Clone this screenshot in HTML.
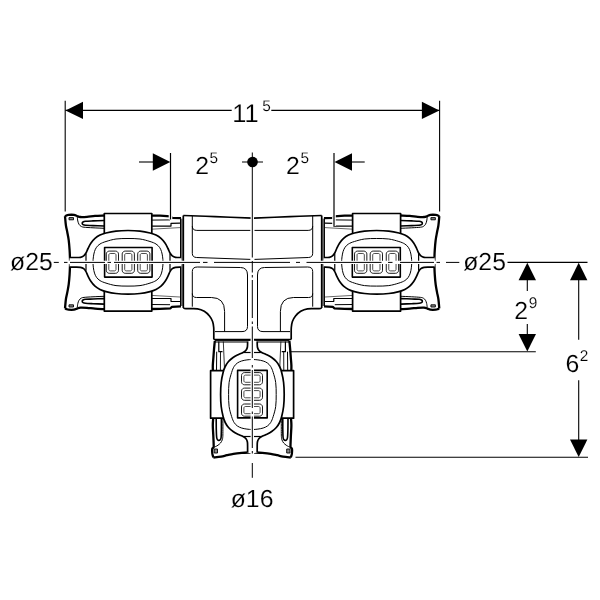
<!DOCTYPE html>
<html lang="en">
<head>
<meta charset="utf-8">
<title>T-fitting dimension drawing</title>
<style>
html,body{margin:0;padding:0;background:#fff;}
body{width:600px;height:600px;overflow:hidden;font-family:"Liberation Sans",Arial,sans-serif;}
svg{display:block;will-change:transform;transform:translateZ(0);}
</style>
</head>
<body>
<svg width="600" height="600" viewBox="0 0 600 600" font-family="'Liberation Sans', Arial, sans-serif" fill="#000" stroke-linecap="butt" stroke-linejoin="round" text-rendering="geometricPrecision">
<rect width="600" height="600" fill="#fff" stroke="none"/>
<path d="M183.3 215.5L252.5 218.2L321.7 215.5L321.7 308L319 308.7L307.5 308.8L300.7 311.3L295.5 316L292.4 321.5L291.3 327.5L291.2 334L291.2 339.5L213.8 339.5L213.8 334L213.7 327.5L212.6 321.5L209.5 316L204.3 311.3L197.5 308.8L186 308.7L183.3 308Z" fill="#fff" stroke="none"/>
<path d="M183.3 215.5C188.58 215.68 203.47 216.15 215 216.6C226.53 217.05 246.25 217.93 252.5 218.2" fill="none" stroke="#000" stroke-width="1.7" />
<path d="M183.3 215.5L183.3 308" fill="none" stroke="#000" stroke-width="1.7" />
<path d="M183.3 308C183.75 308.12 183.63 308.57 186 308.7C188.37 308.83 194.45 308.37 197.5 308.8C200.55 309.23 202.3 310.1 204.3 311.3C206.3 312.5 208.12 314.3 209.5 316C210.88 317.7 211.9 319.58 212.6 321.5C213.3 323.42 213.5 325.42 213.7 327.5C213.9 329.58 213.78 332 213.8 334C213.82 336 213.8 338.58 213.8 339.5" fill="none" stroke="#000" stroke-width="1.7" />
<path d="M192.3 216L192.3 253.3Q192.3 257.4 196.7 257.5L250.5 259.4" fill="none" stroke="#000" stroke-width="1" />
<path d="M192.3 226.2Q192.3 230.3 196.8 230.4L250.5 230.4" fill="none" stroke="#000" stroke-width="1" />
<path d="M192.3 306.7L192.3 271.5Q192.3 267 197.3 267L240.5 267.5Q247.5 267.6 247.5 275L247.5 326.5Q247.5 331.6 242 331.6L215 331.6" fill="none" stroke="#000" stroke-width="1" />
<path d="M192.3 293.5Q192.3 297.5 196.5 297.5L211.5 297.5Q224.6 297.6 224.6 311.5L224.6 331.6" fill="none" stroke="#000" stroke-width="1" />
<path d="M213.8 339.5L252.5 339.5" fill="none" stroke="#000" stroke-width="1.7" />
<path d="M321.7 215.5C316.42 215.68 301.53 216.15 290 216.6C278.47 217.05 258.75 217.93 252.5 218.2" fill="none" stroke="#000" stroke-width="1.7" />
<path d="M321.7 215.5L321.7 308" fill="none" stroke="#000" stroke-width="1.7" />
<path d="M321.7 308C321.25 308.12 321.37 308.57 319 308.7C316.63 308.83 310.55 308.37 307.5 308.8C304.45 309.23 302.7 310.1 300.7 311.3C298.7 312.5 296.88 314.3 295.5 316C294.12 317.7 293.1 319.58 292.4 321.5C291.7 323.42 291.5 325.42 291.3 327.5C291.1 329.58 291.22 332 291.2 334C291.18 336 291.2 338.58 291.2 339.5" fill="none" stroke="#000" stroke-width="1.7" />
<path d="M312.7 216L312.7 253.3Q312.7 257.4 308.3 257.5L254.5 259.4" fill="none" stroke="#000" stroke-width="1" />
<path d="M312.7 226.2Q312.7 230.3 308.2 230.4L254.5 230.4" fill="none" stroke="#000" stroke-width="1" />
<path d="M312.7 306.7L312.7 271.5Q312.7 267 307.7 267L264.5 267.5Q257.5 267.6 257.5 275L257.5 326.5Q257.5 331.6 263 331.6L290 331.6" fill="none" stroke="#000" stroke-width="1" />
<path d="M312.7 293.5Q312.7 297.5 308.5 297.5L293.5 297.5Q280.4 297.6 280.4 311.5L280.4 331.6" fill="none" stroke="#000" stroke-width="1" />
<path d="M291.2 339.5L252.5 339.5" fill="none" stroke="#000" stroke-width="1.7" />
<path d="M181.6 218.6L181 218.2L172 217.8L170.5 216.3L160 215.7L151.5 215.6L104 215.5L95 215.9L87 216.8L80.5 217L77 216L74 214.9L68.5 214.9L66.5 215.5L65 216.2L65.9 225.36L67.3 232.25L68.7 240.14L69.6 249.99L70 259.3L70 262.3L70 265.3L69.6 274.61L68.7 284.46L67.3 292.35L65.9 299.24L65 308.4L66.5 309.1L68.5 309.7L74 309.7L77 308.6L80.5 307.6L87 307.8L95 308.7L104 309.1L151.5 309L160 308.9L170.5 308.3L172 306.8L181 306.4L181.6 306Z" fill="#fff" stroke="none"/>
<path d="M65 216.2C65.15 217.73 65.52 222.68 65.9 225.36C66.28 228.03 66.83 229.79 67.3 232.25C67.77 234.72 68.32 237.18 68.7 240.14C69.08 243.09 69.38 246.79 69.6 249.99C69.82 253.18 69.93 257.25 70 259.3C70.07 261.35 70 261.3 70 262.3C70 263.3 70.07 263.25 70 265.3C69.93 267.35 69.82 271.42 69.6 274.61C69.38 277.81 69.08 281.51 68.7 284.46C68.32 287.42 67.77 289.88 67.3 292.35C66.83 294.81 66.28 296.57 65.9 299.24C65.52 301.92 65.15 306.87 65 308.4" fill="none" stroke="#000" stroke-width="2.3"/>
<path d="M65 216.2C65.25 216.08 65.92 215.72 66.5 215.5C67.08 215.28 67.25 215 68.5 214.9C69.75 214.8 72.58 214.72 74 214.9C75.42 215.08 75.92 215.65 77 216C78.08 216.35 78.83 216.87 80.5 217C82.17 217.13 84.58 216.98 87 216.8C89.42 216.62 92.17 216.12 95 215.9C97.83 215.68 102.5 215.57 104 215.5" fill="none" stroke="#000" stroke-width="2.3"/>
<path d="M151.5 215.6L160 215.7L170.5 216.3L172 217.8L181 218.2" fill="none" stroke="#000" stroke-width="2.3"/>
<path d="M69 217.6L73.5 217.6L73.5 219.8L69 219.8Z" fill="#888" stroke="#000" stroke-width="0.9"/>
<path d="M77.3 217C77.38 217.67 77.52 219.78 77.8 221C78.08 222.22 78.47 223.42 79 224.3C79.53 225.18 80.17 225.82 81 226.3C81.83 226.78 82 226.95 84 227.2C86 227.45 89.67 227.62 93 227.8C96.33 227.98 102.17 228.22 104 228.3" fill="none" stroke="#000" stroke-width="1"/>
<path d="M104 220.5C102.17 220.57 96.08 220.77 93 220.9C89.92 221.03 87.17 221.12 85.5 221.3C83.83 221.48 83.55 221.67 83 222C82.45 222.33 82.2 222.87 82.2 223.3C82.2 223.73 82.45 224.27 83 224.6C83.55 224.93 83.83 225.13 85.5 225.3C87.17 225.47 89.92 225.48 93 225.6C96.08 225.72 102.17 225.93 104 226" fill="none" stroke="#000" stroke-width="1.6"/>
<path d="M151.5 220.1L170 219.9" fill="none" stroke="#000" stroke-width="1"/>
<path d="M151.5 226.1L171 226.1L171 223.3L180 223.1" fill="none" stroke="#000" stroke-width="1.2"/>
<path d="M151.5 229.2L180 227.6" fill="none" stroke="#000" stroke-width="0.6"/>
<path d="M65 308.4C65.25 308.52 65.92 308.88 66.5 309.1C67.08 309.32 67.25 309.6 68.5 309.7C69.75 309.8 72.58 309.88 74 309.7C75.42 309.52 75.92 308.95 77 308.6C78.08 308.25 78.83 307.73 80.5 307.6C82.17 307.47 84.58 307.62 87 307.8C89.42 307.98 92.17 308.48 95 308.7C97.83 308.92 102.5 309.03 104 309.1" fill="none" stroke="#000" stroke-width="2.3"/>
<path d="M151.5 309L160 308.9L170.5 308.3L172 306.8L181 306.4" fill="none" stroke="#000" stroke-width="2.3"/>
<path d="M69 307L73.5 307L73.5 304.8L69 304.8Z" fill="#888" stroke="#000" stroke-width="0.9"/>
<path d="M77.3 307.6C77.38 306.93 77.52 304.82 77.8 303.6C78.08 302.38 78.47 301.18 79 300.3C79.53 299.42 80.17 298.78 81 298.3C81.83 297.82 82 297.65 84 297.4C86 297.15 89.67 296.98 93 296.8C96.33 296.62 102.17 296.38 104 296.3" fill="none" stroke="#000" stroke-width="1"/>
<path d="M104 304.1C102.17 304.03 96.08 303.83 93 303.7C89.92 303.57 87.17 303.48 85.5 303.3C83.83 303.12 83.55 302.93 83 302.6C82.45 302.27 82.2 301.73 82.2 301.3C82.2 300.87 82.45 300.33 83 300C83.55 299.67 83.83 299.47 85.5 299.3C87.17 299.13 89.92 299.12 93 299C96.08 298.88 102.17 298.67 104 298.6" fill="none" stroke="#000" stroke-width="1.6"/>
<path d="M151.5 304.5L170 304.7" fill="none" stroke="#000" stroke-width="1"/>
<path d="M151.5 298.5L171 298.5L171 301.3L180 301.5" fill="none" stroke="#000" stroke-width="1.2"/>
<path d="M151.5 295.4L180 297" fill="none" stroke="#000" stroke-width="0.6"/>
<path d="M180.5 218.6L180.5 306" fill="none" stroke="#000" stroke-width="1"/>
<path d="M181.9 218.6L181.9 306" fill="none" stroke="#000" stroke-width="1"/>
<path d="M104.3 213.5L151.8 213.5L151.8 311.1L104.3 311.1Z" fill="#fff" stroke="#000" stroke-width="1.7"/>
<path d="M70 257.5C70.83 255.9 73.25 257.53 75 257.5C76.75 257.47 79.05 257.57 80.5 257.3C81.95 257.03 82.78 256.62 83.7 255.9C84.62 255.18 85.28 254.23 86 253C86.72 251.77 87.17 250.17 88 248.5C88.83 246.83 89.83 244.68 91 243C92.17 241.32 93.5 239.72 95 238.4C96.5 237.08 98.17 236 100 235.1C101.83 234.2 103.33 233.67 106 233C108.67 232.33 112.33 231.52 116 231.1C119.67 230.68 124 230.5 128 230.5C132 230.5 136.33 230.68 140 231.1C143.67 231.52 147.33 232.33 150 233C152.67 233.67 154.17 234.2 156 235.1C157.83 236 159.5 237.08 161 238.4C162.5 239.72 163.83 241.32 165 243C166.17 244.68 167.17 246.83 168 248.5C168.83 250.17 169.28 251.77 170 253C170.72 254.23 171.38 255.18 172.3 255.9C173.22 256.62 174.05 257.03 175.5 257.3C176.95 257.57 180.08 255.87 181 257.5C181.92 259.13 181.92 265.47 181 267.1C180.08 268.73 176.95 267.03 175.5 267.3C174.05 267.57 173.22 267.98 172.3 268.7C171.38 269.42 170.72 270.37 170 271.6C169.28 272.83 168.83 274.43 168 276.1C167.17 277.77 166.17 279.92 165 281.6C163.83 283.28 162.5 284.88 161 286.2C159.5 287.52 157.83 288.6 156 289.5C154.17 290.4 152.67 290.93 150 291.6C147.33 292.27 143.67 293.08 140 293.5C136.33 293.92 132 294.1 128 294.1C124 294.1 119.67 293.92 116 293.5C112.33 293.08 108.67 292.27 106 291.6C103.33 290.93 101.83 290.4 100 289.5C98.17 288.6 96.5 287.52 95 286.2C93.5 284.88 92.17 283.28 91 281.6C89.83 279.92 88.83 277.77 88 276.1C87.17 274.43 86.72 272.83 86 271.6C85.28 270.37 84.62 269.42 83.7 268.7C82.78 267.98 81.95 267.57 80.5 267.3C79.05 267.03 76.75 267.13 75 267.1C73.25 267.07 70.83 268.7 70 267.1C69.17 265.5 69.17 259.1 70 257.5Z" fill="#fff" stroke="none"/>
<path d="M70 257.5C70.83 257.5 73.25 257.53 75 257.5C76.75 257.47 79.05 257.57 80.5 257.3C81.95 257.03 82.78 256.62 83.7 255.9C84.62 255.18 85.28 254.23 86 253C86.72 251.77 87.17 250.17 88 248.5C88.83 246.83 89.83 244.68 91 243C92.17 241.32 93.5 239.72 95 238.4C96.5 237.08 98.17 236 100 235.1C101.83 234.2 103.33 233.67 106 233C108.67 232.33 112.33 231.52 116 231.1C119.67 230.68 124 230.5 128 230.5C132 230.5 136.33 230.68 140 231.1C143.67 231.52 147.33 232.33 150 233C152.67 233.67 154.17 234.2 156 235.1C157.83 236 159.5 237.08 161 238.4C162.5 239.72 163.83 241.32 165 243C166.17 244.68 167.17 246.83 168 248.5C168.83 250.17 169.28 251.77 170 253C170.72 254.23 171.38 255.18 172.3 255.9C173.22 256.62 174.05 257.03 175.5 257.3C176.95 257.57 180.08 257.47 181 257.5" fill="none" stroke="#000" stroke-width="1.7"/>
<path d="M181 267.1C180.08 267.13 176.95 267.03 175.5 267.3C174.05 267.57 173.22 267.98 172.3 268.7C171.38 269.42 170.72 270.37 170 271.6C169.28 272.83 168.83 274.43 168 276.1C167.17 277.77 166.17 279.92 165 281.6C163.83 283.28 162.5 284.88 161 286.2C159.5 287.52 157.83 288.6 156 289.5C154.17 290.4 152.67 290.93 150 291.6C147.33 292.27 143.67 293.08 140 293.5C136.33 293.92 132 294.1 128 294.1C124 294.1 119.67 293.92 116 293.5C112.33 293.08 108.67 292.27 106 291.6C103.33 290.93 101.83 290.4 100 289.5C98.17 288.6 96.5 287.52 95 286.2C93.5 284.88 92.17 283.28 91 281.6C89.83 279.92 88.83 277.77 88 276.1C87.17 274.43 86.72 272.83 86 271.6C85.28 270.37 84.62 269.42 83.7 268.7C82.78 267.98 81.95 267.57 80.5 267.3C79.05 267.03 76.75 267.13 75 267.1C73.25 267.07 70.83 267.1 70 267.1" fill="none" stroke="#000" stroke-width="1.7"/>
<path d="M86 253.8L86 270.8" fill="none" stroke="#000" stroke-width="1.2"/>
<path d="M170 253.8L170 270.8" fill="none" stroke="#000" stroke-width="1.2"/>
<path d="M93 262.3C93 260.47 93.15 258.6 93.4 256.8C93.65 255 93.98 253.08 94.5 251.5C95.02 249.92 95.58 248.55 96.5 247.3C97.42 246.05 98.42 244.97 100 244C101.58 243.03 103.33 242.33 106 241.5C108.67 240.67 112.33 239.5 116 239C119.67 238.5 124 238.5 128 238.5C132 238.5 136.33 238.5 140 239C143.67 239.5 147.33 240.67 150 241.5C152.67 242.33 154.42 243.03 156 244C157.58 244.97 158.58 246.05 159.5 247.3C160.42 248.55 160.98 249.92 161.5 251.5C162.02 253.08 162.35 255 162.6 256.8C162.85 258.6 163 260.47 163 262.3C163 264.13 162.85 266 162.6 267.8C162.35 269.6 162.02 271.52 161.5 273.1C160.98 274.68 160.42 276.05 159.5 277.3C158.58 278.55 157.58 279.63 156 280.6C154.42 281.57 152.67 282.27 150 283.1C147.33 283.93 143.67 285.1 140 285.6C136.33 286.1 132 286.1 128 286.1C124 286.1 119.67 286.1 116 285.6C112.33 285.1 108.67 283.93 106 283.1C103.33 282.27 101.58 281.57 100 280.6C98.42 279.63 97.42 278.55 96.5 277.3C95.58 276.05 95.02 274.68 94.5 273.1C93.98 271.52 93.65 269.6 93.4 267.8C93.15 266 93 264.13 93 262.3Z" fill="none" stroke="#000" stroke-width="1"/>
<path d="M104.6 247.5L152.1 247.5L152.1 277.1L104.6 277.1Z" fill="#fff" stroke="#000" stroke-width="1.6"/>
<path d="M115.5 251.1L116.43 251.25L117.26 251.67L117.93 252.34L118.35 253.17L118.5 254.1L118.5 270.3L118.35 271.23L117.93 272.06L117.26 272.73L116.43 273.15L115.5 273.3L109.3 273.3L108.37 273.15L107.54 272.73L106.87 272.06L106.45 271.23L106.3 270.3L106.3 254.1L106.45 253.17L106.87 252.34L107.54 251.67L108.37 251.25L109.3 251.1Z" fill="none" stroke="#000" stroke-width="0.9"/>
<path d="M114.5 253.5L114.96 253.57L115.38 253.79L115.71 254.12L115.93 254.54L116 255L116 269.4L115.93 269.86L115.71 270.28L115.38 270.61L114.96 270.83L114.5 270.9L110.3 270.9L109.84 270.83L109.42 270.61L109.09 270.28L108.87 269.86L108.8 269.4L108.8 255L108.87 254.54L109.09 254.12L109.42 253.79L109.84 253.57L110.3 253.5Z" fill="none" stroke="#000" stroke-width="0.7"/>
<path d="M131.4 251.1L132.33 251.25L133.16 251.67L133.83 252.34L134.25 253.17L134.4 254.1L134.4 270.3L134.25 271.23L133.83 272.06L133.16 272.73L132.33 273.15L131.4 273.3L125.2 273.3L124.27 273.15L123.44 272.73L122.77 272.06L122.35 271.23L122.2 270.3L122.2 254.1L122.35 253.17L122.77 252.34L123.44 251.67L124.27 251.25L125.2 251.1Z" fill="none" stroke="#000" stroke-width="0.9"/>
<path d="M130.4 253.5L130.86 253.57L131.28 253.79L131.61 254.12L131.83 254.54L131.9 255L131.9 269.4L131.83 269.86L131.61 270.28L131.28 270.61L130.86 270.83L130.4 270.9L126.2 270.9L125.74 270.83L125.32 270.61L124.99 270.28L124.77 269.86L124.7 269.4L124.7 255L124.77 254.54L124.99 254.12L125.32 253.79L125.74 253.57L126.2 253.5Z" fill="none" stroke="#000" stroke-width="0.7"/>
<path d="M146.9 251.1L147.83 251.25L148.66 251.67L149.33 252.34L149.75 253.17L149.9 254.1L149.9 270.3L149.75 271.23L149.33 272.06L148.66 272.73L147.83 273.15L146.9 273.3L140.7 273.3L139.77 273.15L138.94 272.73L138.27 272.06L137.85 271.23L137.7 270.3L137.7 254.1L137.85 253.17L138.27 252.34L138.94 251.67L139.77 251.25L140.7 251.1Z" fill="none" stroke="#000" stroke-width="0.9"/>
<path d="M145.9 253.5L146.36 253.57L146.78 253.79L147.11 254.12L147.33 254.54L147.4 255L147.4 269.4L147.33 269.86L147.11 270.28L146.78 270.61L146.36 270.83L145.9 270.9L141.7 270.9L141.24 270.83L140.82 270.61L140.49 270.28L140.27 269.86L140.2 269.4L140.2 255L140.27 254.54L140.49 254.12L140.82 253.79L141.24 253.57L141.7 253.5Z" fill="none" stroke="#000" stroke-width="0.7"/>
<path d="M323.39 218.6L323.98 218.2L332.8 217.8L334.27 216.3L344.56 215.7L352.9 215.6L400.9 215.5L409.76 215.9L417.64 216.8L424.04 217L427.48 216L430.44 214.9L435.85 214.9L437.82 215.5L439.3 216.2L438.41 225.36L437.04 232.25L435.66 240.14L434.77 249.99L434.38 259.3L434.38 262.3L434.38 265.3L434.77 274.61L435.66 284.46L437.04 292.35L438.41 299.24L439.3 308.4L437.82 309.1L435.85 309.7L430.44 309.7L427.48 308.6L424.04 307.6L417.64 307.8L409.76 308.7L400.9 309.1L352.9 309L344.56 308.9L334.27 308.3L332.8 306.8L323.98 306.4L323.39 306Z" fill="#fff" stroke="none"/>
<path d="M439.3 216.2C439.15 217.73 438.79 222.68 438.41 225.36C438.04 228.03 437.49 229.79 437.04 232.25C436.58 234.72 436.03 237.18 435.66 240.14C435.28 243.09 434.98 246.79 434.77 249.99C434.56 253.18 434.44 257.25 434.38 259.3C434.31 261.35 434.38 261.3 434.38 262.3C434.38 263.3 434.31 263.25 434.38 265.3C434.44 267.35 434.56 271.42 434.77 274.61C434.98 277.81 435.28 281.51 435.66 284.46C436.03 287.42 436.58 289.88 437.04 292.35C437.49 294.81 438.04 296.57 438.41 299.24C438.79 301.92 439.15 306.87 439.3 308.4" fill="none" stroke="#000" stroke-width="2.3"/>
<path d="M439.3 216.2C439.05 216.08 438.4 215.72 437.82 215.5C437.25 215.28 437.08 215 435.85 214.9C434.62 214.8 431.83 214.72 430.44 214.9C429.04 215.08 428.55 215.65 427.48 216C426.42 216.35 425.68 216.87 424.04 217C422.4 217.13 420.02 216.98 417.64 216.8C415.26 216.62 412.55 216.12 409.76 215.9C406.97 215.68 402.37 215.57 400.9 215.5" fill="none" stroke="#000" stroke-width="2.3"/>
<path d="M352.9 215.6L344.56 215.7L334.27 216.3L332.8 217.8L323.98 218.2" fill="none" stroke="#000" stroke-width="2.3"/>
<path d="M435.36 217.6L430.93 217.6L430.93 219.8L435.36 219.8Z" fill="#888" stroke="#000" stroke-width="0.9"/>
<path d="M427.19 217C427.11 217.67 426.97 219.78 426.7 221C426.42 222.22 426.04 223.42 425.51 224.3C424.99 225.18 424.36 225.82 423.54 226.3C422.72 226.78 422.56 226.95 420.59 227.2C418.62 227.45 415.01 227.62 411.73 227.8C408.45 227.98 402.7 228.22 400.9 228.3" fill="none" stroke="#000" stroke-width="1"/>
<path d="M400.9 220.5C402.7 220.57 408.69 220.77 411.73 220.9C414.76 221.03 417.47 221.12 419.11 221.3C420.75 221.48 421.03 221.67 421.57 222C422.12 222.33 422.36 222.87 422.36 223.3C422.36 223.73 422.12 224.27 421.57 224.6C421.03 224.93 420.75 225.13 419.11 225.3C417.47 225.47 414.76 225.48 411.73 225.6C408.69 225.72 402.7 225.93 400.9 226" fill="none" stroke="#000" stroke-width="1.6"/>
<path d="M352.9 220.1L334.76 219.9" fill="none" stroke="#000" stroke-width="1"/>
<path d="M352.9 226.1L333.78 226.1L333.78 223.3L324.96 223.1" fill="none" stroke="#000" stroke-width="1.2"/>
<path d="M352.9 229.2L324.96 227.6" fill="none" stroke="#000" stroke-width="0.6"/>
<path d="M439.3 308.4C439.05 308.52 438.4 308.88 437.82 309.1C437.25 309.32 437.08 309.6 435.85 309.7C434.62 309.8 431.83 309.88 430.44 309.7C429.04 309.52 428.55 308.95 427.48 308.6C426.42 308.25 425.68 307.73 424.04 307.6C422.4 307.47 420.02 307.62 417.64 307.8C415.26 307.98 412.55 308.48 409.76 308.7C406.97 308.92 402.37 309.03 400.9 309.1" fill="none" stroke="#000" stroke-width="2.3"/>
<path d="M352.9 309L344.56 308.9L334.27 308.3L332.8 306.8L323.98 306.4" fill="none" stroke="#000" stroke-width="2.3"/>
<path d="M435.36 307L430.93 307L430.93 304.8L435.36 304.8Z" fill="#888" stroke="#000" stroke-width="0.9"/>
<path d="M427.19 307.6C427.11 306.93 426.97 304.82 426.7 303.6C426.42 302.38 426.04 301.18 425.51 300.3C424.99 299.42 424.36 298.78 423.54 298.3C422.72 297.82 422.56 297.65 420.59 297.4C418.62 297.15 415.01 296.98 411.73 296.8C408.45 296.62 402.7 296.38 400.9 296.3" fill="none" stroke="#000" stroke-width="1"/>
<path d="M400.9 304.1C402.7 304.03 408.69 303.83 411.73 303.7C414.76 303.57 417.47 303.48 419.11 303.3C420.75 303.12 421.03 302.93 421.57 302.6C422.12 302.27 422.36 301.73 422.36 301.3C422.36 300.87 422.12 300.33 421.57 300C421.03 299.67 420.75 299.47 419.11 299.3C417.47 299.13 414.76 299.12 411.73 299C408.69 298.88 402.7 298.67 400.9 298.6" fill="none" stroke="#000" stroke-width="1.6"/>
<path d="M352.9 304.5L334.76 304.7" fill="none" stroke="#000" stroke-width="1"/>
<path d="M352.9 298.5L333.78 298.5L333.78 301.3L324.96 301.5" fill="none" stroke="#000" stroke-width="1.2"/>
<path d="M352.9 295.4L324.96 297" fill="none" stroke="#000" stroke-width="0.6"/>
<path d="M324.47 218.6L324.47 306" fill="none" stroke="#000" stroke-width="1"/>
<path d="M323.1 218.6L323.1 306" fill="none" stroke="#000" stroke-width="1"/>
<path d="M400.6 213.5L352.6 213.5L352.6 311.1L400.6 311.1Z" fill="#fff" stroke="#000" stroke-width="1.7"/>
<path d="M434.38 257.5C433.56 255.9 431.18 257.53 429.45 257.5C427.73 257.47 425.46 257.57 424.04 257.3C422.61 257.03 421.79 256.62 420.89 255.9C419.98 255.18 419.33 254.23 418.62 253C417.91 251.77 417.47 250.17 416.65 248.5C415.83 246.83 414.85 244.68 413.7 243C412.55 241.32 411.24 239.72 409.76 238.4C408.28 237.08 406.65 236 404.83 235.1C403.02 234.2 401.56 233.67 398.88 233C396.21 232.33 392.48 231.52 388.78 231.1C385.07 230.68 380.69 230.5 376.65 230.5C372.61 230.5 368.23 230.68 364.52 231.1C360.82 231.52 357.09 232.33 354.42 233C351.75 233.67 350.29 234.2 348.48 235.1C346.68 236 345.05 237.08 343.58 238.4C342.11 239.72 340.81 241.32 339.66 243C338.52 244.68 337.54 246.83 336.72 248.5C335.91 250.17 335.47 251.77 334.76 253C334.06 254.23 333.41 255.18 332.51 255.9C331.61 256.62 330.79 257.03 329.37 257.3C327.95 257.57 324.88 255.87 323.98 257.5C323.08 259.13 323.08 265.47 323.98 267.1C324.88 268.73 327.95 267.03 329.37 267.3C330.79 267.57 331.61 267.98 332.51 268.7C333.41 269.42 334.06 270.37 334.76 271.6C335.47 272.83 335.91 274.43 336.72 276.1C337.54 277.77 338.52 279.92 339.66 281.6C340.81 283.28 342.11 284.88 343.58 286.2C345.05 287.52 346.68 288.6 348.48 289.5C350.29 290.4 351.75 290.93 354.42 291.6C357.09 292.27 360.82 293.08 364.52 293.5C368.23 293.92 372.61 294.1 376.65 294.1C380.69 294.1 385.07 293.92 388.78 293.5C392.48 293.08 396.21 292.27 398.88 291.6C401.56 290.93 403.02 290.4 404.83 289.5C406.65 288.6 408.28 287.52 409.76 286.2C411.24 284.88 412.55 283.28 413.7 281.6C414.85 279.92 415.83 277.77 416.65 276.1C417.47 274.43 417.91 272.83 418.62 271.6C419.33 270.37 419.98 269.42 420.89 268.7C421.79 267.98 422.61 267.57 424.04 267.3C425.46 267.03 427.73 267.13 429.45 267.1C431.18 267.07 433.56 268.7 434.38 267.1C435.2 265.5 435.2 259.1 434.38 257.5Z" fill="#fff" stroke="none"/>
<path d="M434.38 257.5C433.56 257.5 431.18 257.53 429.45 257.5C427.73 257.47 425.46 257.57 424.04 257.3C422.61 257.03 421.79 256.62 420.89 255.9C419.98 255.18 419.33 254.23 418.62 253C417.91 251.77 417.47 250.17 416.65 248.5C415.83 246.83 414.85 244.68 413.7 243C412.55 241.32 411.24 239.72 409.76 238.4C408.28 237.08 406.65 236 404.83 235.1C403.02 234.2 401.56 233.67 398.88 233C396.21 232.33 392.48 231.52 388.78 231.1C385.07 230.68 380.69 230.5 376.65 230.5C372.61 230.5 368.23 230.68 364.52 231.1C360.82 231.52 357.09 232.33 354.42 233C351.75 233.67 350.29 234.2 348.48 235.1C346.68 236 345.05 237.08 343.58 238.4C342.11 239.72 340.81 241.32 339.66 243C338.52 244.68 337.54 246.83 336.72 248.5C335.91 250.17 335.47 251.77 334.76 253C334.06 254.23 333.41 255.18 332.51 255.9C331.61 256.62 330.79 257.03 329.37 257.3C327.95 257.57 324.88 257.47 323.98 257.5" fill="none" stroke="#000" stroke-width="1.7"/>
<path d="M323.98 267.1C324.88 267.13 327.95 267.03 329.37 267.3C330.79 267.57 331.61 267.98 332.51 268.7C333.41 269.42 334.06 270.37 334.76 271.6C335.47 272.83 335.91 274.43 336.72 276.1C337.54 277.77 338.52 279.92 339.66 281.6C340.81 283.28 342.11 284.88 343.58 286.2C345.05 287.52 346.68 288.6 348.48 289.5C350.29 290.4 351.75 290.93 354.42 291.6C357.09 292.27 360.82 293.08 364.52 293.5C368.23 293.92 372.61 294.1 376.65 294.1C380.69 294.1 385.07 293.92 388.78 293.5C392.48 293.08 396.21 292.27 398.88 291.6C401.56 290.93 403.02 290.4 404.83 289.5C406.65 288.6 408.28 287.52 409.76 286.2C411.24 284.88 412.55 283.28 413.7 281.6C414.85 279.92 415.83 277.77 416.65 276.1C417.47 274.43 417.91 272.83 418.62 271.6C419.33 270.37 419.98 269.42 420.89 268.7C421.79 267.98 422.61 267.57 424.04 267.3C425.46 267.03 427.73 267.13 429.45 267.1C431.18 267.07 433.56 267.1 434.38 267.1" fill="none" stroke="#000" stroke-width="1.7"/>
<path d="M418.62 253.8L418.62 270.8" fill="none" stroke="#000" stroke-width="1.2"/>
<path d="M334.76 253.8L334.76 270.8" fill="none" stroke="#000" stroke-width="1.2"/>
<path d="M411.73 262.3C411.73 260.47 411.58 258.6 411.33 256.8C411.09 255 410.76 253.08 410.25 251.5C409.74 249.92 409.18 248.55 408.28 247.3C407.38 246.05 406.4 244.97 404.83 244C403.27 243.03 401.56 242.33 398.88 241.5C396.21 240.67 392.48 239.5 388.78 239C385.07 238.5 380.69 238.5 376.65 238.5C372.61 238.5 368.23 238.5 364.52 239C360.82 239.5 357.09 240.67 354.42 241.5C351.75 242.33 350.04 243.03 348.48 244C346.92 244.97 345.95 246.05 345.05 247.3C344.16 248.55 343.6 249.92 343.09 251.5C342.59 253.08 342.26 255 342.02 256.8C341.77 258.6 341.62 260.47 341.62 262.3C341.62 264.13 341.77 266 342.02 267.8C342.26 269.6 342.59 271.52 343.09 273.1C343.6 274.68 344.16 276.05 345.05 277.3C345.95 278.55 346.92 279.63 348.48 280.6C350.04 281.57 351.75 282.27 354.42 283.1C357.09 283.93 360.82 285.1 364.52 285.6C368.23 286.1 372.61 286.1 376.65 286.1C380.69 286.1 385.07 286.1 388.78 285.6C392.48 285.1 396.21 283.93 398.88 283.1C401.56 282.27 403.27 281.57 404.83 280.6C406.4 279.63 407.38 278.55 408.28 277.3C409.18 276.05 409.74 274.68 410.25 273.1C410.76 271.52 411.09 269.6 411.33 267.8C411.58 266 411.73 264.13 411.73 262.3Z" fill="none" stroke="#000" stroke-width="1"/>
<path d="M400.3 247.5L352.31 247.5L352.31 277.1L400.3 277.1Z" fill="#fff" stroke="#000" stroke-width="1.6"/>
<path d="M389.28 251.1L388.35 251.25L387.5 251.67L386.83 252.34L386.4 253.17L386.25 254.1L386.25 270.3L386.4 271.23L386.83 272.06L387.5 272.73L388.35 273.15L389.28 273.3L395.55 273.3L396.48 273.15L397.33 272.73L398 272.06L398.43 271.23L398.58 270.3L398.58 254.1L398.43 253.17L398 252.34L397.33 251.67L396.48 251.25L395.55 251.1Z" fill="none" stroke="#000" stroke-width="0.9"/>
<path d="M390.29 253.5L389.82 253.57L389.4 253.79L389.07 254.12L388.85 254.54L388.78 255L388.78 269.4L388.85 269.86L389.07 270.28L389.4 270.61L389.82 270.83L390.29 270.9L394.54 270.9L395.01 270.83L395.43 270.61L395.76 270.28L395.98 269.86L396.05 269.4L396.05 255L395.98 254.54L395.76 254.12L395.43 253.79L395.01 253.57L394.54 253.5Z" fill="none" stroke="#000" stroke-width="0.7"/>
<path d="M373.21 251.1L372.28 251.25L371.43 251.67L370.76 252.34L370.33 253.17L370.18 254.1L370.18 270.3L370.33 271.23L370.76 272.06L371.43 272.73L372.28 273.15L373.21 273.3L379.48 273.3L380.42 273.15L381.26 272.73L381.93 272.06L382.36 271.23L382.51 270.3L382.51 254.1L382.36 253.17L381.93 252.34L381.26 251.67L380.42 251.25L379.48 251.1Z" fill="none" stroke="#000" stroke-width="0.9"/>
<path d="M374.23 253.5L373.76 253.57L373.33 253.79L373 254.12L372.78 254.54L372.71 255L372.71 269.4L372.78 269.86L373 270.28L373.33 270.61L373.76 270.83L374.23 270.9L378.47 270.9L378.94 270.83L379.36 270.61L379.7 270.28L379.91 269.86L379.99 269.4L379.99 255L379.91 254.54L379.7 254.12L379.36 253.79L378.94 253.57L378.47 253.5Z" fill="none" stroke="#000" stroke-width="0.7"/>
<path d="M357.55 251.1L356.61 251.25L355.77 251.67L355.1 252.34L354.67 253.17L354.52 254.1L354.52 270.3L354.67 271.23L355.1 272.06L355.77 272.73L356.61 273.15L357.55 273.3L363.82 273.3L364.75 273.15L365.6 272.73L366.27 272.06L366.7 271.23L366.85 270.3L366.85 254.1L366.7 253.17L366.27 252.34L365.6 251.67L364.75 251.25L363.82 251.1Z" fill="none" stroke="#000" stroke-width="0.9"/>
<path d="M358.56 253.5L358.09 253.57L357.67 253.79L357.34 254.12L357.12 254.54L357.05 255L357.05 269.4L357.12 269.86L357.34 270.28L357.67 270.61L358.09 270.83L358.56 270.9L362.81 270.9L363.27 270.83L363.7 270.61L364.03 270.28L364.25 269.86L364.32 269.4L364.32 255L364.25 254.54L364.03 254.12L363.7 253.79L363.27 253.57L362.81 253.5Z" fill="none" stroke="#000" stroke-width="0.7"/>
<path d="M214.8 340.9L214.8 341L214 349.5L213.4 357.5L212.8 365.5L212.9 371L213.2 418.5L212.8 425.5L213.3 435.5L213.7 445.5L213.4 447.5L212.2 449L212.3 453.5L212.9 456L213.4 457.5L221.06 456.6L226.86 455.2L233.48 453.8L241.75 452.9L249.1 452.5L252.1 452.5L255.1 452.5L262.45 452.9L270.72 453.8L277.34 455.2L283.14 456.6L290.8 457.5L291.3 456L291.9 453.5L292 449L290.8 447.5L290.5 445.5L290.9 435.5L291.4 425.5L291 418.5L291.3 371L291.4 365.5L290.8 357.5L290.2 349.5L289.4 341L289.4 340.9Z" fill="#fff" stroke="none"/>
<path d="M213.4 457.5C214.68 457.35 218.82 456.98 221.06 456.6C223.31 456.22 224.79 455.67 226.86 455.2C228.93 454.73 230.99 454.18 233.48 453.8C235.96 453.42 239.15 453.12 241.75 452.9C244.36 452.68 247.38 452.57 249.1 452.5C250.82 452.43 251.1 452.5 252.1 452.5C253.1 452.5 253.38 452.43 255.1 452.5C256.82 452.57 259.84 452.68 262.45 452.9C265.05 453.12 268.24 453.42 270.72 453.8C273.21 454.18 275.27 454.73 277.34 455.2C279.41 455.67 280.89 456.22 283.14 456.6C285.38 456.98 289.52 457.35 290.8 457.5" fill="none" stroke="#000" stroke-width="2.3"/>
<path d="M213.4 457.5C213.32 457.25 213.08 456.67 212.9 456C212.72 455.33 212.42 454.67 212.3 453.5C212.18 452.33 212.02 450 212.2 449C212.38 448 213.15 448.08 213.4 447.5C213.65 446.92 213.72 447.5 213.7 445.5C213.68 443.5 213.45 438.83 213.3 435.5C213.15 432.17 212.82 428.33 212.8 425.5C212.78 422.67 213.13 419.67 213.2 418.5" fill="none" stroke="#000" stroke-width="2.3"/>
<path d="M212.9 371C212.88 370.08 212.72 367.75 212.8 365.5C212.88 363.25 213.2 360.17 213.4 357.5C213.6 354.83 213.77 352.25 214 349.5C214.23 346.75 214.67 342.42 214.8 341" fill="none" stroke="#000" stroke-width="2.3"/>
<path d="M214.2 453L214.2 449L217.5 449L217.5 453Z" fill="#888" stroke="#000" stroke-width="0.9"/>
<path d="M214 447C214.28 446.92 215.03 446.8 215.7 446.5C216.37 446.2 217.2 445.78 218 445.2C218.8 444.62 219.8 443.87 220.5 443C221.2 442.13 221.82 441.08 222.2 440C222.58 438.92 222.68 438.25 222.8 436.5C222.92 434.75 222.88 432.5 222.9 429.5C222.92 426.5 222.9 420.33 222.9 418.5" fill="none" stroke="#000" stroke-width="1"/>
<path d="M216.2 418.5C216.22 420.33 216.22 426.33 216.3 429.5C216.38 432.67 216.48 435.8 216.7 437.5C216.92 439.2 217.25 439.2 217.6 439.7C217.95 440.2 218.37 440.5 218.8 440.5C219.23 440.5 219.82 440.2 220.2 439.7C220.58 439.2 220.9 439.2 221.1 437.5C221.3 435.8 221.35 432.67 221.4 429.5C221.45 426.33 221.4 420.33 221.4 418.5" fill="none" stroke="#000" stroke-width="1.6"/>
<path d="M216.5 371L216.7 351.7" fill="none" stroke="#000" stroke-width="1"/>
<path d="M218.8 341.5L218.8 351.7L222.5 351.7" fill="none" stroke="#000" stroke-width="1.2"/>
<path d="M224.6 371L223.3 341.5" fill="none" stroke="#000" stroke-width="0.8"/>
<path d="M220.4 371L220.5 351.7" fill="none" stroke="#000" stroke-width="0.9"/>
<path d="M290.8 457.5C290.88 457.25 291.12 456.67 291.3 456C291.48 455.33 291.78 454.67 291.9 453.5C292.02 452.33 292.18 450 292 449C291.82 448 291.05 448.08 290.8 447.5C290.55 446.92 290.48 447.5 290.5 445.5C290.52 443.5 290.75 438.83 290.9 435.5C291.05 432.17 291.38 428.33 291.4 425.5C291.42 422.67 291.07 419.67 291 418.5" fill="none" stroke="#000" stroke-width="2.3"/>
<path d="M291.3 371C291.32 370.08 291.48 367.75 291.4 365.5C291.32 363.25 291 360.17 290.8 357.5C290.6 354.83 290.43 352.25 290.2 349.5C289.97 346.75 289.53 342.42 289.4 341" fill="none" stroke="#000" stroke-width="2.3"/>
<path d="M290 453L290 449L286.7 449L286.7 453Z" fill="#888" stroke="#000" stroke-width="0.9"/>
<path d="M290.2 447C289.92 446.92 289.17 446.8 288.5 446.5C287.83 446.2 287 445.78 286.2 445.2C285.4 444.62 284.4 443.87 283.7 443C283 442.13 282.38 441.08 282 440C281.62 438.92 281.52 438.25 281.4 436.5C281.28 434.75 281.32 432.5 281.3 429.5C281.28 426.5 281.3 420.33 281.3 418.5" fill="none" stroke="#000" stroke-width="1"/>
<path d="M288 418.5C287.98 420.33 287.98 426.33 287.9 429.5C287.82 432.67 287.72 435.8 287.5 437.5C287.28 439.2 286.95 439.2 286.6 439.7C286.25 440.2 285.83 440.5 285.4 440.5C284.97 440.5 284.38 440.2 284 439.7C283.62 439.2 283.3 439.2 283.1 437.5C282.9 435.8 282.85 432.67 282.8 429.5C282.75 426.33 282.8 420.33 282.8 418.5" fill="none" stroke="#000" stroke-width="1.6"/>
<path d="M287.7 371L287.5 351.7" fill="none" stroke="#000" stroke-width="1"/>
<path d="M285.4 341.5L285.4 351.7L281.7 351.7" fill="none" stroke="#000" stroke-width="1.2"/>
<path d="M279.6 371L280.9 341.5" fill="none" stroke="#000" stroke-width="0.8"/>
<path d="M283.8 371L283.7 351.7" fill="none" stroke="#000" stroke-width="0.9"/>
<path d="M214.8 342L289.4 342" fill="none" stroke="#000" stroke-width="1"/>
<path d="M214.8 340.6L289.4 340.6" fill="none" stroke="#000" stroke-width="1"/>
<path d="M210.6 418.2L210.6 370.7L293.6 370.7L293.6 418.2Z" fill="#fff" stroke="#000" stroke-width="1.7"/>
<path d="M247.6 452.5C246 451.67 247.63 449.25 247.6 447.5C247.57 445.75 247.67 443.45 247.4 442C247.13 440.55 246.72 439.72 246 438.8C245.28 437.88 244.33 437.22 243.1 436.5C241.87 435.78 240.27 435.33 238.6 434.5C236.93 433.67 234.78 432.67 233.1 431.5C231.42 430.33 229.82 429 228.5 427.5C227.18 426 226.1 424.33 225.2 422.5C224.3 420.67 223.77 419.17 223.1 416.5C222.43 413.83 221.62 410.17 221.2 406.5C220.78 402.83 220.6 398.5 220.6 394.5C220.6 390.5 220.78 386.17 221.2 382.5C221.62 378.83 222.43 375.17 223.1 372.5C223.77 369.83 224.3 368.33 225.2 366.5C226.1 364.67 227.18 363 228.5 361.5C229.82 360 231.42 358.67 233.1 357.5C234.78 356.33 236.93 355.33 238.6 354.5C240.27 353.67 241.87 353.22 243.1 352.5C244.33 351.78 245.28 351.12 246 350.2C246.72 349.28 247.13 348.45 247.4 347C247.67 345.55 245.97 342.42 247.6 341.5C249.23 340.58 255.57 340.58 257.2 341.5C258.83 342.42 257.13 345.55 257.4 347C257.67 348.45 258.08 349.28 258.8 350.2C259.52 351.12 260.47 351.78 261.7 352.5C262.93 353.22 264.53 353.67 266.2 354.5C267.87 355.33 270.02 356.33 271.7 357.5C273.38 358.67 274.98 360 276.3 361.5C277.62 363 278.7 364.67 279.6 366.5C280.5 368.33 281.03 369.83 281.7 372.5C282.37 375.17 283.18 378.83 283.6 382.5C284.02 386.17 284.2 390.5 284.2 394.5C284.2 398.5 284.02 402.83 283.6 406.5C283.18 410.17 282.37 413.83 281.7 416.5C281.03 419.17 280.5 420.67 279.6 422.5C278.7 424.33 277.62 426 276.3 427.5C274.98 429 273.38 430.33 271.7 431.5C270.02 432.67 267.87 433.67 266.2 434.5C264.53 435.33 262.93 435.78 261.7 436.5C260.47 437.22 259.52 437.88 258.8 438.8C258.08 439.72 257.67 440.55 257.4 442C257.13 443.45 257.23 445.75 257.2 447.5C257.17 449.25 258.8 451.67 257.2 452.5C255.6 453.33 249.2 453.33 247.6 452.5Z" fill="#fff" stroke="none"/>
<path d="M247.6 452.5C247.6 451.67 247.63 449.25 247.6 447.5C247.57 445.75 247.67 443.45 247.4 442C247.13 440.55 246.72 439.72 246 438.8C245.28 437.88 244.33 437.22 243.1 436.5C241.87 435.78 240.27 435.33 238.6 434.5C236.93 433.67 234.78 432.67 233.1 431.5C231.42 430.33 229.82 429 228.5 427.5C227.18 426 226.1 424.33 225.2 422.5C224.3 420.67 223.77 419.17 223.1 416.5C222.43 413.83 221.62 410.17 221.2 406.5C220.78 402.83 220.6 398.5 220.6 394.5C220.6 390.5 220.78 386.17 221.2 382.5C221.62 378.83 222.43 375.17 223.1 372.5C223.77 369.83 224.3 368.33 225.2 366.5C226.1 364.67 227.18 363 228.5 361.5C229.82 360 231.42 358.67 233.1 357.5C234.78 356.33 236.93 355.33 238.6 354.5C240.27 353.67 241.87 353.22 243.1 352.5C244.33 351.78 245.28 351.12 246 350.2C246.72 349.28 247.13 348.45 247.4 347C247.67 345.55 247.57 342.42 247.6 341.5" fill="none" stroke="#000" stroke-width="1.7"/>
<path d="M257.2 341.5C257.23 342.42 257.13 345.55 257.4 347C257.67 348.45 258.08 349.28 258.8 350.2C259.52 351.12 260.47 351.78 261.7 352.5C262.93 353.22 264.53 353.67 266.2 354.5C267.87 355.33 270.02 356.33 271.7 357.5C273.38 358.67 274.98 360 276.3 361.5C277.62 363 278.7 364.67 279.6 366.5C280.5 368.33 281.03 369.83 281.7 372.5C282.37 375.17 283.18 378.83 283.6 382.5C284.02 386.17 284.2 390.5 284.2 394.5C284.2 398.5 284.02 402.83 283.6 406.5C283.18 410.17 282.37 413.83 281.7 416.5C281.03 419.17 280.5 420.67 279.6 422.5C278.7 424.33 277.62 426 276.3 427.5C274.98 429 273.38 430.33 271.7 431.5C270.02 432.67 267.87 433.67 266.2 434.5C264.53 435.33 262.93 435.78 261.7 436.5C260.47 437.22 259.52 437.88 258.8 438.8C258.08 439.72 257.67 440.55 257.4 442C257.13 443.45 257.23 445.75 257.2 447.5C257.17 449.25 257.2 451.67 257.2 452.5" fill="none" stroke="#000" stroke-width="1.7"/>
<path d="M243.9 436.5L260.9 436.5" fill="none" stroke="#000" stroke-width="1.2"/>
<path d="M243.9 352.5L260.9 352.5" fill="none" stroke="#000" stroke-width="1.2"/>
<path d="M252.4 429.5C250.57 429.5 248.7 429.35 246.9 429.1C245.1 428.85 243.18 428.52 241.6 428C240.02 427.48 238.65 426.92 237.4 426C236.15 425.08 235.07 424.08 234.1 422.5C233.13 420.92 232.43 419.17 231.6 416.5C230.77 413.83 229.6 410.17 229.1 406.5C228.6 402.83 228.6 398.5 228.6 394.5C228.6 390.5 228.6 386.17 229.1 382.5C229.6 378.83 230.77 375.17 231.6 372.5C232.43 369.83 233.13 368.08 234.1 366.5C235.07 364.92 236.15 363.92 237.4 363C238.65 362.08 240.02 361.52 241.6 361C243.18 360.48 245.1 360.15 246.9 359.9C248.7 359.65 250.57 359.5 252.4 359.5C254.23 359.5 256.1 359.65 257.9 359.9C259.7 360.15 261.62 360.48 263.2 361C264.78 361.52 266.15 362.08 267.4 363C268.65 363.92 269.73 364.92 270.7 366.5C271.67 368.08 272.37 369.83 273.2 372.5C274.03 375.17 275.2 378.83 275.7 382.5C276.2 386.17 276.2 390.5 276.2 394.5C276.2 398.5 276.2 402.83 275.7 406.5C275.2 410.17 274.03 413.83 273.2 416.5C272.37 419.17 271.67 420.92 270.7 422.5C269.73 424.08 268.65 425.08 267.4 426C266.15 426.92 264.78 427.48 263.2 428C261.62 428.52 259.7 428.85 257.9 429.1C256.1 429.35 254.23 429.5 252.4 429.5Z" fill="none" stroke="#000" stroke-width="1"/>
<path d="M237.6 417.9L237.6 370.4L267.2 370.4L267.2 417.9Z" fill="#fff" stroke="#000" stroke-width="1.6"/>
<path d="M241.5 407L241.65 406.07L242.07 405.24L242.74 404.57L243.57 404.15L244.5 404L259.5 404L260.43 404.15L261.26 404.57L261.93 405.24L262.35 406.07L262.5 407L262.5 413.2L262.35 414.13L261.93 414.96L261.26 415.63L260.43 416.05L259.5 416.2L244.5 416.2L243.57 416.05L242.74 415.63L242.07 414.96L241.65 414.13L241.5 413.2Z" fill="none" stroke="#000" stroke-width="0.9"/>
<path d="M243.9 408L243.97 407.54L244.19 407.12L244.52 406.79L244.94 406.57L245.4 406.5L258.6 406.5L259.06 406.57L259.48 406.79L259.81 407.12L260.03 407.54L260.1 408L260.1 412.2L260.03 412.66L259.81 413.08L259.48 413.41L259.06 413.63L258.6 413.7L245.4 413.7L244.94 413.63L244.52 413.41L244.19 413.08L243.97 412.66L243.9 412.2Z" fill="none" stroke="#000" stroke-width="0.7"/>
<path d="M241.5 391.1L241.65 390.17L242.07 389.34L242.74 388.67L243.57 388.25L244.5 388.1L259.5 388.1L260.43 388.25L261.26 388.67L261.93 389.34L262.35 390.17L262.5 391.1L262.5 397.3L262.35 398.23L261.93 399.06L261.26 399.73L260.43 400.15L259.5 400.3L244.5 400.3L243.57 400.15L242.74 399.73L242.07 399.06L241.65 398.23L241.5 397.3Z" fill="none" stroke="#000" stroke-width="0.9"/>
<path d="M243.9 392.1L243.97 391.64L244.19 391.22L244.52 390.89L244.94 390.67L245.4 390.6L258.6 390.6L259.06 390.67L259.48 390.89L259.81 391.22L260.03 391.64L260.1 392.1L260.1 396.3L260.03 396.76L259.81 397.18L259.48 397.51L259.06 397.73L258.6 397.8L245.4 397.8L244.94 397.73L244.52 397.51L244.19 397.18L243.97 396.76L243.9 396.3Z" fill="none" stroke="#000" stroke-width="0.7"/>
<path d="M241.5 375.6L241.65 374.67L242.07 373.84L242.74 373.17L243.57 372.75L244.5 372.6L259.5 372.6L260.43 372.75L261.26 373.17L261.93 373.84L262.35 374.67L262.5 375.6L262.5 381.8L262.35 382.73L261.93 383.56L261.26 384.23L260.43 384.65L259.5 384.8L244.5 384.8L243.57 384.65L242.74 384.23L242.07 383.56L241.65 382.73L241.5 381.8Z" fill="none" stroke="#000" stroke-width="0.9"/>
<path d="M243.9 376.6L243.97 376.14L244.19 375.72L244.52 375.39L244.94 375.17L245.4 375.1L258.6 375.1L259.06 375.17L259.48 375.39L259.81 375.72L260.03 376.14L260.1 376.6L260.1 380.8L260.03 381.26L259.81 381.68L259.48 382.01L259.06 382.23L258.6 382.3L245.4 382.3L244.94 382.23L244.52 382.01L244.19 381.68L243.97 381.26L243.9 380.8Z" fill="none" stroke="#000" stroke-width="0.7"/>
<path d="M170.5 213V219.5M334 213V226" stroke="#fff" stroke-width="3.6" fill="none"/>
<path d="M66 262.4H439" stroke="#fff" stroke-width="3.4" fill="none"/>
<path d="M252.3 214V458" stroke="#fff" stroke-width="3.4" fill="none"/>
<path d="M53.8 262.4H58.8M64 262.4H67.5M70 262.4H105M107.5 262.4H111M114 262.4H200M203 262.4H207.5M214 262.4H290M296 262.4H300M306.5 262.4H381.5M388 262.4H392.5M400 262.4H434M436.5 262.4H440M446 262.4H459.3" stroke="#000" stroke-width="1" fill="none"/>
<path d="M252.3 152.5V257.5M252.3 261V272.5M252.3 275V277.5M252.3 280V318M252.3 321.5V324M252.3 326.5V358M252.3 365V367.5M252.3 370V408M252.3 411.5V414M252.3 416.5V448M252.3 451V453.5M252.3 463V477.8" stroke="#000" stroke-width="1" fill="none"/>
<circle cx="252.5" cy="162" r="5.3" fill="#000"/>
<path d="M242 162L263 162" stroke="#000" stroke-width="1" fill="none" />
<path d="M65.2 100.8L65.2 211.5" stroke="#000" stroke-width="1.1" fill="none" />
<path d="M439.6 100.8L439.6 211.5" stroke="#000" stroke-width="1.1" fill="none" />
<path d="M65.5 110.4L231.7 110.4" stroke="#000" stroke-width="1.1" fill="none" />
<path d="M271.3 110.4L439.5 110.4" stroke="#000" stroke-width="1.1" fill="none" />
<path d="M65.5 110.4L83 101.7L83 119.1Z" fill="#000"/>
<path d="M439.4 110.4L421.9 119.1L421.9 101.7Z" fill="#000"/>
<path d="M170.5 153L170.5 219.5" stroke="#000" stroke-width="1.2" fill="none" />
<path d="M334 153L334 226" stroke="#000" stroke-width="1.2" fill="none" />
<path d="M139 162L153 162" stroke="#000" stroke-width="1.1" fill="none" />
<path d="M351 162L364.7 162" stroke="#000" stroke-width="1.1" fill="none" />
<path d="M170.3 162L152.8 170.7L152.8 153.3Z" fill="#000"/>
<path d="M334.5 162L352 153.3L352 170.7Z" fill="#000"/>
<path d="M507.5 262.4L587.5 262.4" stroke="#000" stroke-width="1.1" fill="none" />
<path d="M289.5 351.7L535.8 351.7" stroke="#000" stroke-width="1.1" fill="none" />
<path d="M295.5 457.3L588 457.3" stroke="#000" stroke-width="1.1" fill="none" />
<path d="M527.3 262.8L536 280.3L518.6 280.3Z" fill="#000"/>
<path d="M527.3 351.5L518.6 334L536 334Z" fill="#000"/>
<path d="M527.3 280L527.3 291" stroke="#000" stroke-width="1.1" fill="none" />
<path d="M527.3 324L527.3 335" stroke="#000" stroke-width="1.1" fill="none" />
<path d="M578.7 262.8L587.4 280.3L570 280.3Z" fill="#000"/>
<path d="M578.7 457L570 439.5L587.4 439.5Z" fill="#000"/>
<path d="M578.7 280L578.7 339.7" stroke="#000" stroke-width="1.1" fill="none" />
<path d="M578.7 380.3L578.7 440" stroke="#000" stroke-width="1.1" fill="none" />
<text x="10.1" y="269.6" font-size="24.8" stroke="#fff" stroke-width="0.15">ø25</text>
<text x="463.2" y="269.6" font-size="24.8" stroke="#fff" stroke-width="0.15">ø25</text>
<text x="230.7" y="507.2" font-size="24.8" stroke="#fff" stroke-width="0.15">ø16</text>
<text x="232.3" y="122" font-size="25.4" stroke="#fff" stroke-width="0.15">11</text>
<text x="262.2" y="110.5" font-size="15.4" stroke="#fff" stroke-width="0.15">5</text>
<text x="195.2" y="173.8" font-size="24.8" stroke="#fff" stroke-width="0.15">2</text>
<text x="209.6" y="163" font-size="15.4" stroke="#fff" stroke-width="0.15">5</text>
<text x="285.9" y="173.8" font-size="24.8" stroke="#fff" stroke-width="0.15">2</text>
<text x="300.6" y="162.9" font-size="15.4" stroke="#fff" stroke-width="0.15">5</text>
<text x="514.2" y="319.1" font-size="24.8" stroke="#fff" stroke-width="0.15">2</text>
<text x="528.8" y="308.2" font-size="15.4" stroke="#fff" stroke-width="0.15">9</text>
<text x="565.5" y="371.7" font-size="24.8" stroke="#fff" stroke-width="0.15">6</text>
<text x="579.8" y="361" font-size="15.4" stroke="#fff" stroke-width="0.15">2</text>
</svg>
</body>
</html>
